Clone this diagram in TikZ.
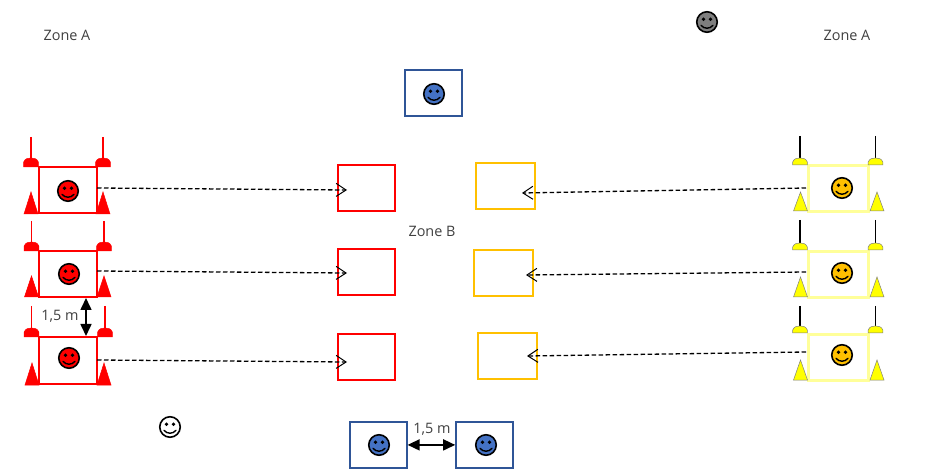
\documentclass[tikz,border=0pt]{standalone}
\usepackage{fontspec}
\setmainfont{Open Sans}
\usetikzlibrary{arrows.meta}
\definecolor{redc}{HTML}{FF0000}
\definecolor{yelc}{HTML}{FFFF00}
\definecolor{paley}{HTML}{FFFF99}
\definecolor{orangec}{HTML}{FFC000}
\definecolor{bluec}{HTML}{4472C4}
\definecolor{navyb}{HTML}{2F5597}
\definecolor{grayc}{HTML}{7F7F7F}
\definecolor{txt}{HTML}{404040}
\tikzset{
  zonebox/.style={draw=#1,line width=1.8pt,minimum width=57pt,minimum height=46pt,inner sep=0pt,anchor=north west,xshift=-0.8pt,yshift=0.8pt},
  label text/.style={text=txt,font=\fontsize{14.4}{16}\selectfont,inner sep=0pt,yshift=-0.8pt},
  face/.style={circle,draw=black,line width=1.6pt,fill=#1,minimum size=20.5pt,inner sep=0pt},
  guide/.style={dash pattern=on 4.5pt off 2.5pt,line width=1.3pt,black,-{Straight Barb[length=10pt,width=13pt,line width=1pt]}},
  span/.style={line width=1.6pt,{Triangle[length=12pt,width=11pt]}-{Triangle[length=12pt,width=11pt]}}
}
\newcommand{\smiley}[4]{%
  \node[face=#4] (#1) at (#2,#3) {};
  \fill (#2-3.5,#3-2.8) circle (1.9pt);
  \fill (#2+3.5,#3-2.8) circle (1.9pt);
  \draw[line width=1.4pt,line cap=round] (#2-6,#3+3.3) .. controls (#2-3,#3+7.2) and (#2+3,#3+7.2) .. (#2+6,#3+3.3);
}
\newcommand{\polelamp}[7]{%
  \draw[#7,line width=1.3pt] (#1,#2) -- (#1,#3);
  \fill[#5,draw=#6,line width=.5pt] (#1-7.3,#4) -- (#1-7.3,#3+4) .. controls (#1-6,#3+.5) and (#1-3,#3) .. (#1,#3) .. controls (#1+3,#3) and (#1+6,#3+.5) .. (#1+7.3,#3+4) -- (#1+7.3,#4) -- cycle;
}
\newcommand{\cone}[5]{%
  \fill[#4,draw=#5,line width=.5pt] (#1-7,#3) -- (#1,#2) -- (#1+7,#3) -- cycle;
}
\begin{document}
\begin{tikzpicture}[x=1pt,y=-1pt]
\useasboundingbox (0,0) rectangle (932,470);
\node[label text] (za1) at (67,35) {Zone A};
\node[label text] (za2) at (847,35) {Zone A};
\node[label text] (zb) at (432,231) {Zone B};
\node[zonebox=redc,minimum width=58pt,minimum height=46pt] (rb1) at (38.5,167) {};
\node[zonebox=redc,minimum width=58pt,minimum height=46pt] (rb2) at (39,251) {};
\node[zonebox=redc,minimum width=58pt,minimum height=47pt] (rb3) at (39,337) {};
\polelamp{31}{137}{158}{167}{redc}{redc}{redc}
\polelamp{103}{137}{158}{167}{redc}{redc}{redc}
\polelamp{31.5}{221}{242}{251}{redc}{redc}{redc}
\polelamp{104}{221}{242}{251}{redc}{redc}{redc}
\polelamp{31.5}{306}{328}{337}{redc}{redc}{redc}
\polelamp{105}{306}{328}{337}{redc}{redc}{redc}
\cone{31}{192}{214}{redc}{redc}
\cone{103}{192}{214}{redc}{redc}
\cone{31.5}{276}{297}{redc}{redc}
\cone{104}{276}{297}{redc}{redc}
\cone{32}{363}{385}{redc}{redc}
\cone{104}{363}{385}{redc}{redc}
\smiley{fr1}{68}{191}{redc}
\smiley{fr2}{69}{274}{redc}
\smiley{fr3}{69}{358}{redc}
\node[zonebox=paley,line width=3.2pt,minimum width=60pt,minimum height=46pt] (yb1) at (808,165) {};
\node[zonebox=paley,line width=3.2pt,minimum width=60pt,minimum height=46pt] (yb2) at (808,251) {};
\node[zonebox=paley,line width=3.2pt,minimum width=60pt,minimum height=46pt] (yb3) at (808,334) {};
\polelamp{800}{136}{158}{165}{yelc}{grayc}{black}
\polelamp{875.5}{136}{158}{165}{yelc}{grayc}{black}
\polelamp{800}{220}{243}{250}{yelc}{grayc}{black}
\polelamp{875.5}{220}{243}{250}{yelc}{grayc}{black}
\polelamp{800}{306}{326}{333}{yelc}{grayc}{black}
\polelamp{875.5}{306}{326}{333}{yelc}{grayc}{black}
\cone{800.5}{192}{211}{yelc}{grayc}
\cone{877}{192}{211}{yelc}{grayc}
\cone{800.5}{277}{297}{yelc}{grayc}
\cone{877}{277}{297}{yelc}{grayc}
\cone{800.5}{360}{380}{yelc}{grayc}
\cone{877}{360}{380}{yelc}{grayc}
\smiley{fy1}{842}{188}{orangec}
\smiley{fy2}{842}{273}{orangec}
\smiley{fy3}{842}{355}{orangec}
\node[zonebox=redc,minimum height=46pt] (cr1) at (338,165) {};
\node[zonebox=redc,minimum height=46pt] (cr2) at (338,249) {};
\node[zonebox=redc,minimum height=46pt] (cr3) at (338,334) {};
\node[zonebox=orangec,minimum width=59pt] (co1) at (476,163) {};
\node[zonebox=orangec,minimum width=59pt] (co2) at (474,250) {};
\node[zonebox=orangec,minimum width=59pt] (co3) at (478,333) {};
\node[zonebox=navyb,line width=1.4pt] (bt) at (405,70) {};
\node[zonebox=navyb,line width=1.4pt] (bl) at (350,422) {};
\node[zonebox=navyb,line width=1.4pt] (br) at (456,422) {};
\smiley{fb1}{434}{94}{bluec}
\smiley{fb2}{379}{445}{bluec}
\smiley{fb3}{486}{445}{bluec}
\smiley{fg}{707}{22}{grayc}
\smiley{fw}{170}{427}{white}
\coordinate (hr1) at (347,190);
\coordinate (hr2) at (347,273);
\coordinate (hr3) at (347,362);
\coordinate (tr1) at (97,188);
\coordinate (tr2) at (97,271);
\coordinate (tr3) at (97,360);
\coordinate (hy1) at (522,193);
\coordinate (hy2) at (526,275);
\coordinate (hy3) at (527,356);
\coordinate (ty1) at (806,188);
\coordinate (ty2) at (806,272);
\coordinate (ty3) at (806,352);
\draw[guide] (tr1) -- (hr1);
\draw[guide] (tr2) -- (hr2);
\draw[guide] (tr3) -- (hr3);
\draw[guide] (ty1) -- (hy1);
\draw[guide] (ty2) -- (hy2);
\draw[guide] (ty3) -- (hy3);
\coordinate (s1) at (86,298);
\coordinate (s2) at (86,336);
\draw[span] (s1) -- (s2);
\draw[span] (bl.east) -- (br.west);
\node[label text] (d1) at (60,315) {1,5 m};
\node[label text] (d2) at (432,428) {1,5 m};
\end{tikzpicture}
\end{document}
